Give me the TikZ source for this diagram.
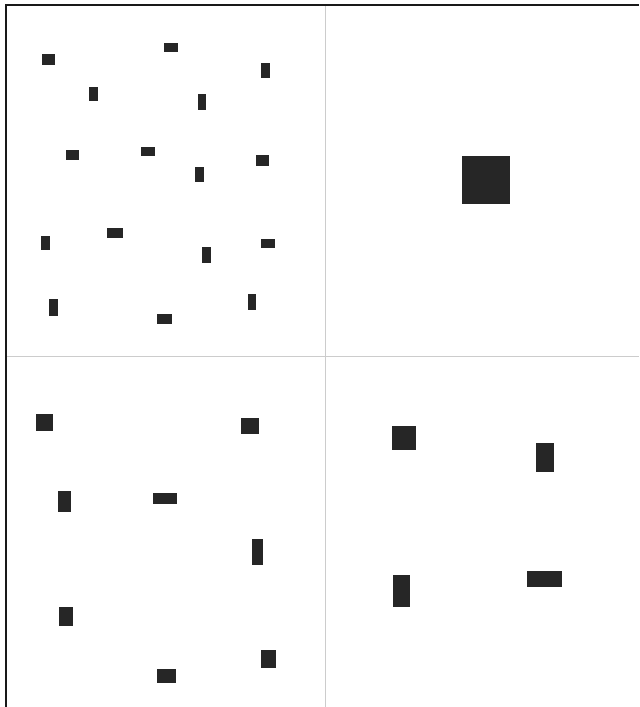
\documentclass[tikz,border=0pt]{standalone}
\begin{document}
\begin{tikzpicture}[x=0.03cm,y=-0.03cm]
  \tikzset{blk/.style={fill=black!85},
    divider/.style={gray!40,line width=0.85pt},
    frame/.style={black!90,line width=1.3pt}}
  \useasboundingbox (0,0) rectangle (639,707);
  % panel dividers
  \draw[divider] (325.5,5) -- (325.5,707);
  \draw[divider] (6,356.5) -- (639,356.5);
  % outer frame
  \draw[frame] (6,707) -- (6,5) -- (639,5);
  % top left: many small bars
  \foreach \xa/\ya/\xb/\yb in {42/54/55/65, 164/43/178/52, 261/63/270/78,
      89/87/98/101, 198/94/206/110, 66/150/79/160, 141/147/155/156,
      256/155/269/166, 195/167/204/182, 41/236/50/250, 107/228/123/238,
      202/247/211/263, 261/239/275/248, 49/299/58/316, 157/314/172/324,
      248/294/256/310}
    \fill[blk] (\xa,\ya) rectangle (\xb,\yb);
  % top right: one block
  \fill[blk] (462,156) rectangle (510,204);
  % bottom left: medium bars
  \foreach \xa/\ya/\xb/\yb in {36/414/53/431, 241/418/259/434,
      58/491/71/512, 153/493/177/504, 252/539/263/565,
      59/607/73/626, 157/669/176/683, 261/650/276/668}
    \fill[blk] (\xa,\ya) rectangle (\xb,\yb);
  % bottom right: large bars
  \foreach \xa/\ya/\xb/\yb in {392/426/416/450, 536/443/554/472,
      393/575/410/607, 527/571/562/587}
    \fill[blk] (\xa,\ya) rectangle (\xb,\yb);
\end{tikzpicture}
\end{document}
